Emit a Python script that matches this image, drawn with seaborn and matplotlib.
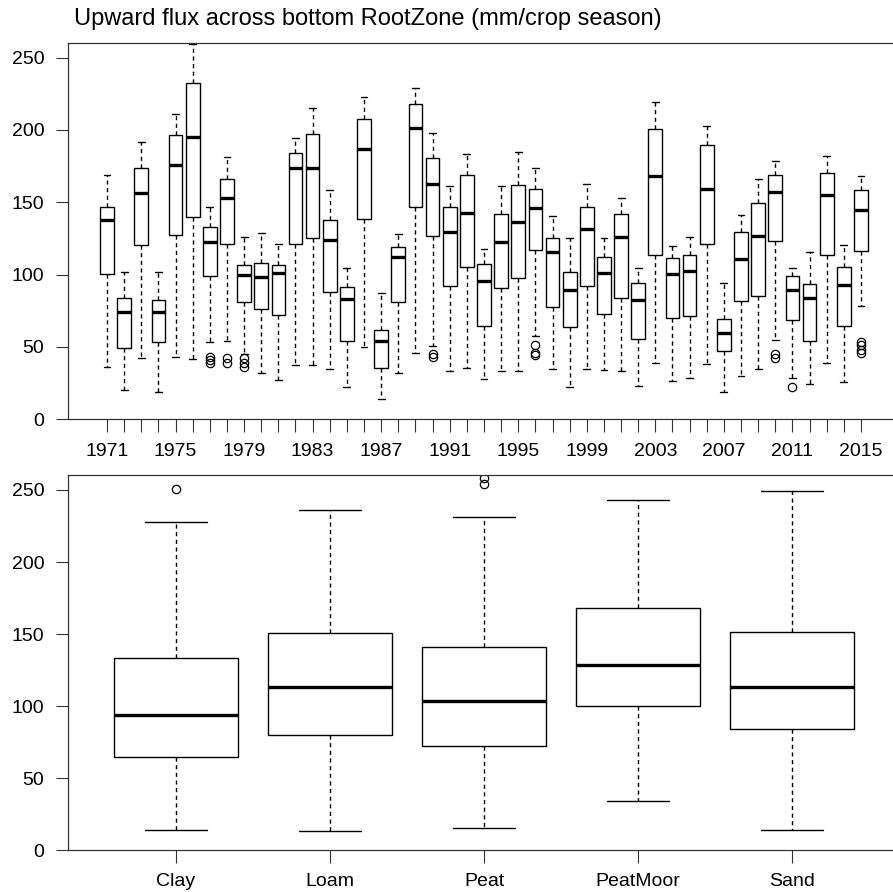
import matplotlib
matplotlib.use("Agg")
import matplotlib.pyplot as plt
import pandas as pd
import seaborn as sns

# ---- yearly upward flux summaries (mm/crop season) ----
years = list(range(1971, 2016))
year_low = [35.8, 20.1, 42.3, 18.5, 43.2, 41.8, 53.2, 53.9, 44.9, 31.7,
            27.3, 37.2, 37.2, 34.5, 22.0, 49.7, 13.9, 31.9, 45.8, 50.6,
            33.3, 35.4, 27.7, 33.3, 33.3, 57.3, 34.5, 22.0, 34.5, 33.8,
            33.3, 23.1, 38.6, 26.6, 28.7, 37.9, 18.7, 29.8, 34.5, 55.0,
            28.7, 24.5, 38.6, 25.4, 78.4]
year_q1 = [100.3, 49.0, 120.2, 53.0, 127.6, 140.1, 98.7, 120.9, 80.9, 76.3,
           72.1, 120.9, 125.5, 87.6, 54.3, 138.3, 35.6, 80.9, 146.8, 126.7,
           92.3, 105.4, 64.5, 90.4, 97.3, 117.0, 77.2, 63.8, 91.8, 72.4,
           83.9, 55.5, 113.5, 69.6, 71.2, 120.9, 46.9, 81.6, 84.9, 123.0,
           68.4, 54.3, 113.5, 64.3, 116.3]
year_median = [137.6, 73.8, 156.5, 73.8, 175.7, 194.9, 122.5, 152.8, 99.4, 98.3,
               101.0, 173.6, 173.6, 123.7, 83.0, 186.8, 54.3, 112.1, 201.4, 162.8,
               129.5, 142.9, 95.7, 122.5, 136.2, 145.7, 115.8, 89.0, 131.6, 100.8,
               125.8, 82.5, 168.1, 100.3, 102.7, 159.5, 59.2, 110.5, 126.9, 156.8,
               89.5, 83.7, 154.9, 92.7, 144.3]
year_q3 = [146.8, 83.7, 173.6, 82.3, 196.3, 232.8, 132.9, 166.2, 106.4, 107.7,
           106.8, 184.0, 197.5, 137.6, 91.1, 207.4, 61.5, 118.8, 218.0, 180.8,
           146.8, 168.8, 107.3, 142.2, 161.6, 159.3, 125.5, 101.5, 146.8, 112.1,
           141.7, 94.1, 200.9, 111.4, 113.8, 189.4, 69.1, 129.7, 149.6, 168.6,
           98.7, 93.6, 170.0, 105.0, 158.2]
year_high = [168.6, 101.7, 191.4, 101.5, 211.3, 259.4, 146.6, 181.0, 126.2, 128.6,
             121.0, 194.2, 215.3, 158.8, 104.3, 222.7, 86.9, 128.3, 229.4, 197.9,
             161.2, 183.4, 117.5, 160.9, 184.7, 173.6, 140.8, 125.5, 162.8, 125.5,
             152.8, 104.7, 219.7, 119.5, 126.2, 202.5, 94.1, 141.0, 166.0, 178.7,
             104.3, 115.6, 182.0, 120.7, 168.1]
year_outliers = {
    1977: [43, 41, 39],
    1978: [42, 39],
    1979: [42, 39, 36],
    1990: [45, 43],
    1996: [51, 46, 44],
    2010: [45, 42],
    2011: [22],
    2015: [53, 51, 48, 46],
}

# ---- per soil type summaries ----
soils = ["Clay", "Loam", "Peat", "PeatMoor", "Sand"]
soil_low = [14.1, 13.4, 15.3, 34.0, 14.1]
soil_q1 = [65.0, 80.0, 72.2, 99.9, 84.2]
soil_median = [93.9, 113.3, 103.4, 128.6, 113.3]
soil_q3 = [133.7, 150.6, 141.3, 167.9, 151.7]
soil_high = [227.9, 236.4, 231.1, 243.1, 249.1]
soil_outliers = {"Clay": [250.8], "Peat": [258, 254]}

y_ticks = [0, 50, 100, 150, 200, 250]


def summary_frame(labels, low, q1, med, q3, high, outliers, rep=20):
    """Expand five-number summaries into samples whose quartiles,
    whisker ends and outliers reproduce them under the 1.5*IQR rule."""
    rows = []
    for i, lab in enumerate(labels):
        vals = ([low[i]] + [q1[i]] * rep + [med[i]] * rep + [q3[i]] * rep
                + [high[i]] + list(outliers.get(lab, [])))
        rows += [(str(lab), v) for v in vals]
    return pd.DataFrame(rows, columns=["group", "flux"])


year_df = summary_frame(years, year_low, year_q1, year_median, year_q3,
                        year_high, year_outliers)
soil_df = summary_frame(soils, soil_low, soil_q1, soil_median, soil_q3,
                        soil_high, soil_outliers)

sns.set_theme(style="white")
plt.rcParams["font.family"] = ["Liberation Sans", "DejaVu Sans"]

W, H = 893, 892
fig = plt.figure(figsize=(W / 100, H / 100), dpi=100)
fig.patch.set_facecolor("white")
ax1 = fig.add_axes([68 / W, 1 - 419 / H, (W - 68) / W, (419 - 43.3) / H])
ax2 = fig.add_axes([68 / W, 1 - 850.3 / H, (W - 68) / W, (850.3 - 475) / H])

box_kws = dict(
    color="white", linecolor="black", linewidth=1.0, width=0.8,
    medianprops=dict(linewidth=2.4, color="black"),
    whiskerprops=dict(linestyle=(0, (3, 2.5))),
    capprops=dict(linestyle="-"),
    flierprops=dict(marker="o", markersize=6, markerfacecolor="none",
                    markeredgecolor="black", markeredgewidth=0.9),
)

sns.boxplot(data=year_df, x="group", y="flux", order=[str(y) for y in years],
            ax=ax1, **box_kws)
sns.boxplot(data=soil_df, x="group", y="flux", order=soils, ax=ax2, **box_kws)

for ax in (ax1, ax2):
    ax.set_xlabel("")
    ax.set_ylabel("")
    ax.set_yticks(y_ticks)
    ax.set_yticklabels([str(t) for t in y_ticks])
    ax.spines["right"].set_visible(False)
    for side in ("left", "top", "bottom"):
        ax.spines[side].set_color("#333333")
        ax.spines[side].set_linewidth(0.9)
    ax.tick_params(axis="both", which="major", direction="out", bottom=True,
                   left=True, length=9, width=0.8, color="#333333",
                   labelsize=14, labelcolor="black", pad=8)

ax1.set_xlim(-(107 - 68) / 17.136, (W - 107) / 17.136)
ax1.set_ylim(0, 260)
ax1.set_xticks(range(len(years)))
ax1.set_xticklabels([str(y) if (y - 1971) % 4 == 0 else "" for y in years])

ax2.set_xlim(-(176 - 68) / 154, (W - 176) / 154)
ax2.set_ylim(0, 260.4)
ax2.set_xticks(range(len(soils)))
ax2.set_xticklabels(soils)
ax2.tick_params(axis="x", pad=7)

fig.text(74 / W, 1 - 19 / H,
         "Upward flux across bottom RootZone (mm/crop season)",
         fontsize=17, ha="left", va="center", color="black")

fig.savefig("out.png", dpi=100, facecolor="white")
